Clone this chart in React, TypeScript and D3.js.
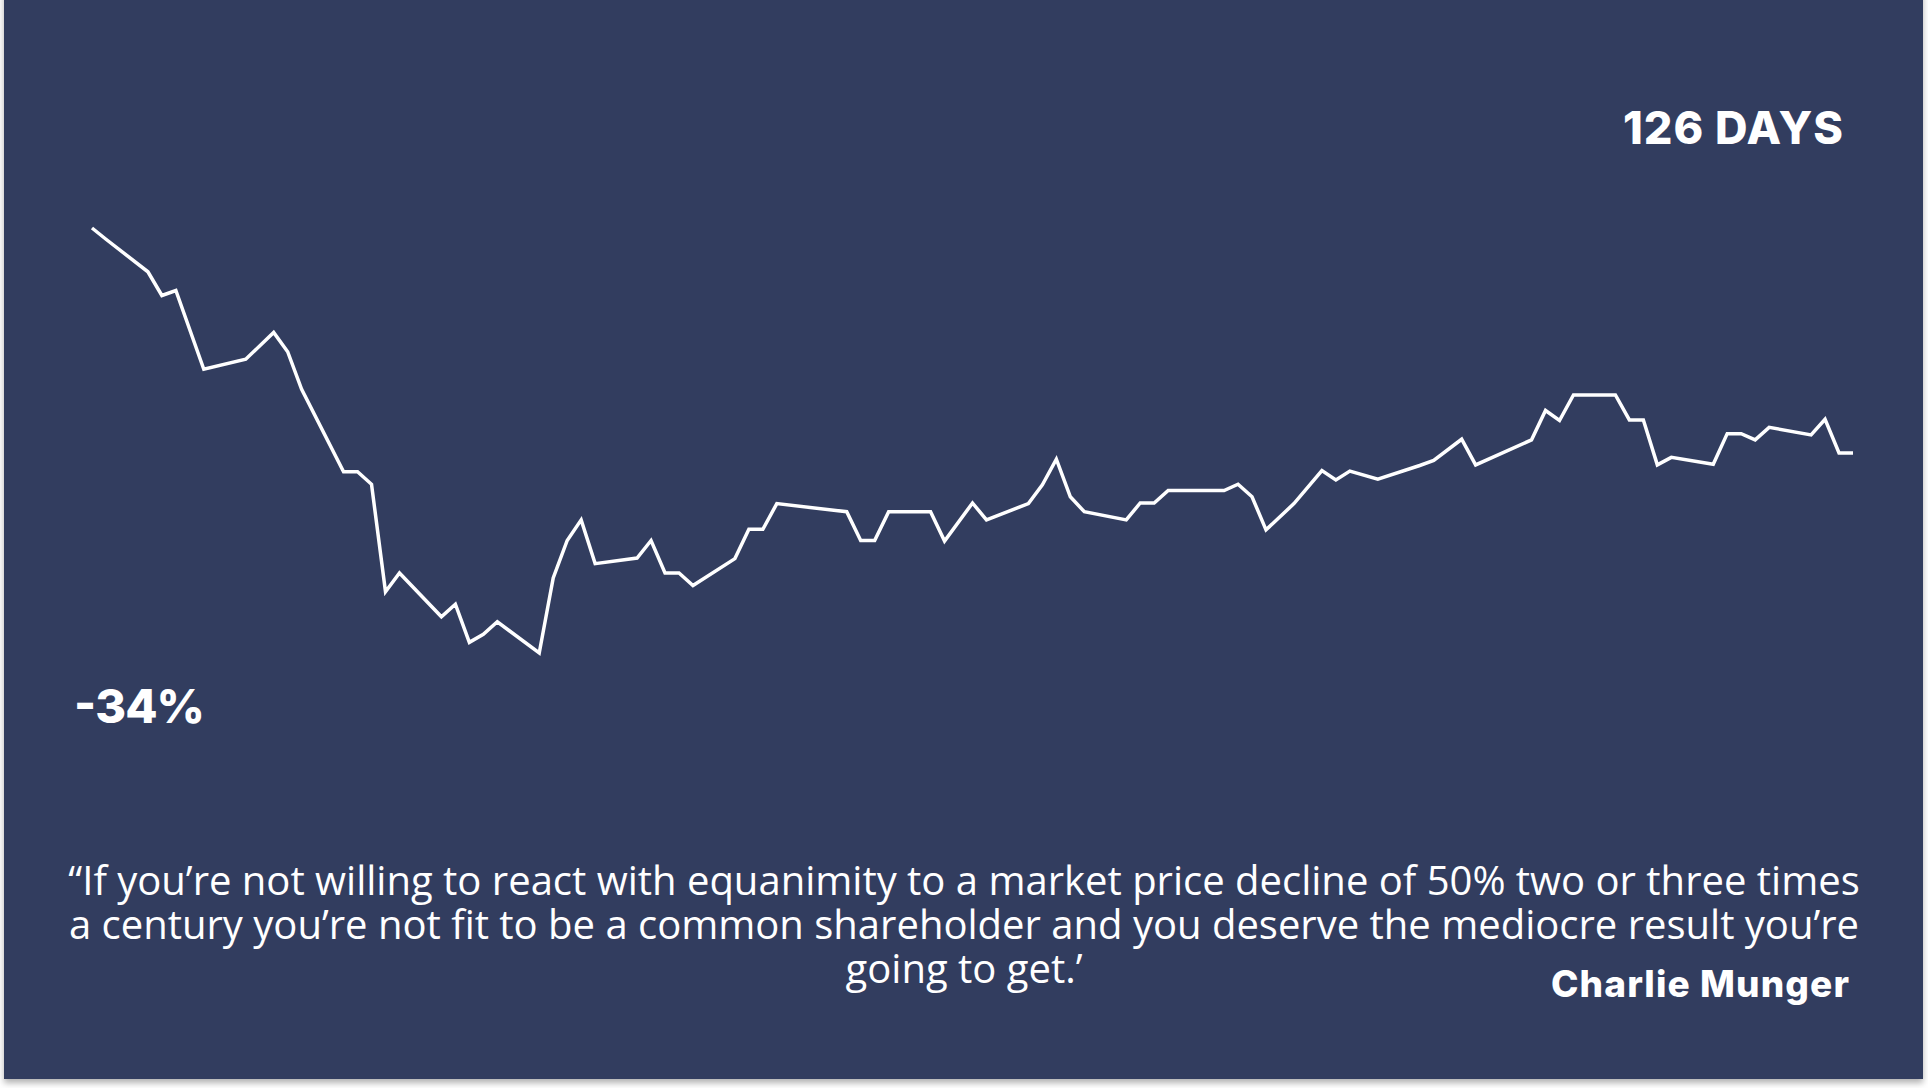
import React, { useEffect, useRef } from 'react';
import * as d3 from 'd3';

// calendar day of each turning point (0 = peak) and the drawdown from the peak in %
const days = [
  0, 1, 4, 5, 6, 8, 11, 13, 14, 15, 18, 19, 20, 21, 22, 25, 26, 27, 28, 29,
  32, 33, 34, 35, 36, 39, 40, 41, 42, 43, 46, 47, 48, 49, 54, 55, 56, 57, 60, 61,
  63, 64, 67, 68, 69, 70, 71, 74, 75, 76, 77, 81, 82, 83, 84, 86, 88, 89, 90, 92,
  95, 96, 98, 99, 103, 104, 105, 106, 109, 110, 111, 112, 113, 116, 117, 118, 119, 120, 123, 124,
  125, 126,
];
const drawdown = [
  0, -0.9, -3.5, -5.4, -5.0, -11.3, -10.5, -8.35, -9.9, -12.9, -19.5, -19.5, -20.5, -29.1, -27.6, -31.1, -30.1, -33.15, -32.5, -31.5,
  -34, -28, -25, -23.35, -26.85, -26.4, -25, -27.6, -27.6, -28.6, -26.45, -24.1, -24.1, -22.05, -22.7, -25.0, -25.0, -22.7, -22.7, -25.05,
  -22.0, -23.35, -22.05, -20.55, -18.5, -21.5, -22.7, -23.35, -22.0, -22.0, -21.0, -21.0, -20.5, -21.5, -24.15, -22.05, -19.4, -20.15, -19.45, -20.1,
  -19.0, -18.6, -16.9, -18.95, -16.95, -14.6, -15.4, -13.35, -13.35, -15.35, -15.35, -18.95, -18.35, -18.9, -16.45, -16.45, -16.95, -15.95, -16.55, -15.3,
  -18, -18,
];

const durationLabel = '126 DAYS';
const troughLabel = '-34%';
const quoteLines = [
  '\u201CIf you\u2019re not willing to react with equanimity to a market price decline of 50% two or three times',
  'a century you\u2019re not fit to be a common shareholder and you deserve the mediocre result you\u2019re',
  'going to get.\u2019',
];
const quoteAuthor = 'Charlie Munger';

const W = 1928;
const H = 1088;
const BG = '#323e5e';

export default function App() {
  const svgRef = useRef<SVGSVGElement>(null);

  useEffect(() => {
    if (!svgRef.current) return;
    const svg = d3.select(svgRef.current);
    svg.selectAll('*').remove();

    const defs = svg.append('defs');
    const f = defs.append('filter').attr('id', 'shadow').attr('x', '-5%').attr('y', '-5%').attr('width', '110%').attr('height', '112%');
    f.append('feDropShadow').attr('dx', 0).attr('dy', 4).attr('stdDeviation', 3).attr('flood-color', '#000').attr('flood-opacity', 0.3);

    svg.append('rect').attr('width', W).attr('height', H).attr('fill', '#ffffff');
    svg.append('rect')
      .attr('x', 4).attr('y', -10).attr('width', 1919).attr('height', 1089)
      .attr('fill', BG)
      .attr('filter', 'url(#shadow)');

    const x = d3.scaleLinear().domain([0, 126]).range([92, 1853]);
    const y = d3.scaleLinear().domain([0, -34]).range([228, 653]);

    const line = d3.line<number>()
      .x((_, i) => x(days[i]))
      .y((d) => y(d));

    svg.append('path')
      .datum(drawdown)
      .attr('d', line)
      .attr('fill', 'none')
      .attr('stroke', '#ffffff')
      .attr('stroke-width', 3.5)
      .attr('stroke-linejoin', 'miter');

    const bold = 'Inter, "Noto Sans", sans-serif';

    svg.append('text')
      .attr('x', 1843).attr('y', 144)
      .attr('text-anchor', 'end')
      .attr('fill', '#fff')
      .attr('font-family', bold)
      .attr('font-weight', 800)
      .attr('font-size', 45)
      .attr('textLength', 220)
      .attr('lengthAdjust', 'spacing')
      .text(durationLabel);

    svg.append('text')
      .attr('x', 74).attr('y', 723)
      .attr('fill', '#fff')
      .attr('font-family', bold)
      .attr('font-weight', 800)
      .attr('font-size', 47)
      .attr('textLength', 131)
      .attr('lengthAdjust', 'spacing')
      .text(troughLabel);

    svg.append('g')
      .selectAll('text')
      .data(quoteLines)
      .join('text')
      .attr('x', 964)
      .attr('y', (_, i) => 895 + i * 44)
      .attr('text-anchor', 'middle')
      .attr('fill', '#fff')
      .attr('font-family', '"Open Sans", sans-serif')
      .attr('font-size', 40)
      .text((d) => d);

    svg.append('text')
      .attr('x', 1849).attr('y', 997)
      .attr('text-anchor', 'end')
      .attr('fill', '#fff')
      .attr('font-family', bold)
      .attr('font-weight', 800)
      .attr('font-size', 37)
      .attr('textLength', 298)
      .attr('lengthAdjust', 'spacing')
      .text(quoteAuthor);
  }, []);

  return (
    <svg
      ref={svgRef}
      width={W}
      height={H}
      style={{ position: 'absolute', left: 0, top: 0, display: 'block' }}
    />
  );
}
